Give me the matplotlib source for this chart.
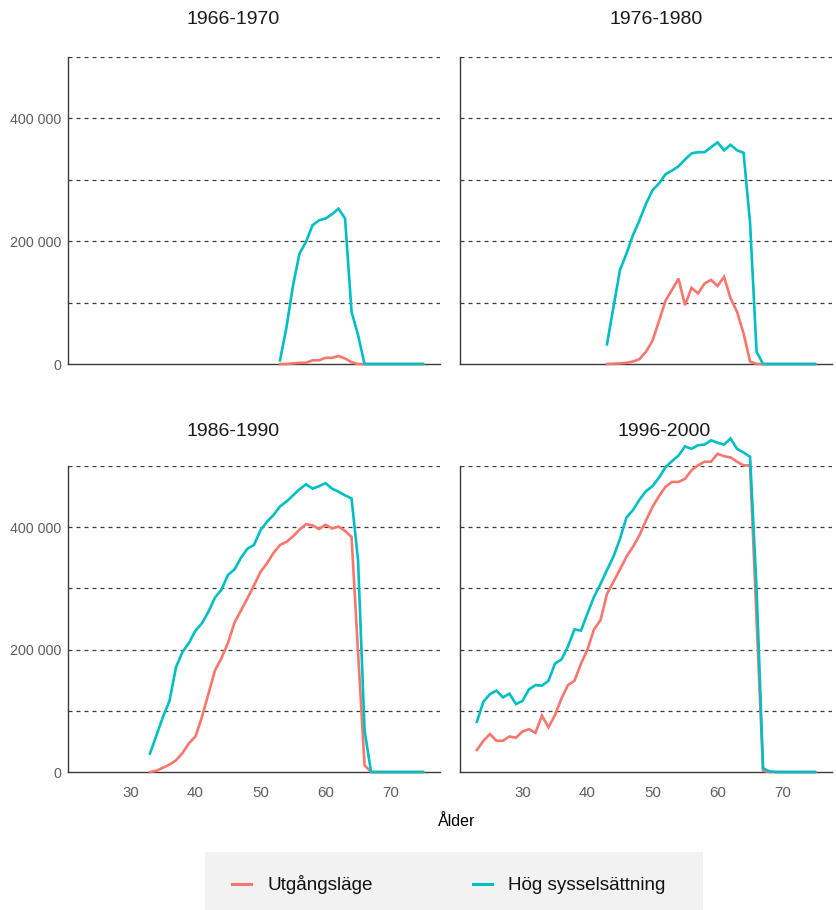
import matplotlib
matplotlib.use("Agg")
import matplotlib.pyplot as plt
import numpy as np
from matplotlib.patches import Rectangle
from matplotlib.lines import Line2D

# ---------------- data (thousands) ----------------
panels = ["1966-1970", "1976-1980", "1986-1990", "1996-2000"]
series_names = ["Utgångsläge", "Hög sysselsättning"]

ages_1966 = list(range(53, 76))
utg_1966 = [0, 0, 1, 2, 2, 6, 6, 10, 10, 13, 9, 3, 0, 0, 0, 0, 0, 0, 0, 0, 0, 0, 0]
hog_1966 = [6, 60, 128, 180, 199, 226, 234, 237, 244, 253, 237, 85, 47, 0, 0, 0, 0, 0, 0, 0, 0, 0, 0]

ages_1976 = list(range(43, 76))
utg_1976 = [0, 0.5, 1, 2, 4, 8, 20, 38, 70, 103, 121, 139, 96, 124, 115, 131, 137, 127, 142, 107,
            85, 50, 4, 0, 0, 0, 0, 0, 0, 0, 0, 0, 0]
hog_1976 = [32, 93, 153, 180, 210, 234, 261, 283, 294, 309, 315, 322, 333, 343, 345, 345, 353, 361,
            348, 357, 348, 344, 230, 20, 0, 0, 0, 0, 0, 0, 0, 0, 0]

ages_1986 = list(range(33, 76))
utg_1986 = [0, 2, 7, 12, 19, 31, 47, 58, 90, 128, 166, 186, 211, 244, 264, 284, 305, 327, 341, 358,
            371, 376, 385, 396, 405, 403, 397, 404, 398, 401, 394, 384, 195, 11, 0, 0, 0, 0, 0, 0, 0, 0, 0]
hog_1986 = [30, 60, 90, 116, 171, 196, 211, 231, 243, 262, 285, 298, 322, 331, 350, 365, 371, 395, 409,
            420, 434, 442, 452, 462, 470, 463, 467, 472, 463, 458, 452, 447, 346, 68, 0, 0, 0, 0, 0, 0, 0, 0, 0]

ages_1996 = list(range(23, 76))
utg_1996 = [36, 51, 62, 51, 51, 58, 56, 66, 70, 64, 92, 73, 93, 120, 142, 149, 177, 200, 233, 248,
            291, 311, 331, 352, 368, 387, 411, 433, 451, 466, 474, 474, 479, 493, 501, 507, 507, 520,
            516, 514, 507, 501, 501, 250, 2, 0, 0, 0, 0, 0, 0, 0, 0]
hog_1996 = [82, 115, 127, 133, 122, 128, 111, 116, 135, 142, 141, 149, 177, 184, 205, 233, 231, 259,
            286, 307, 330, 352, 381, 416, 428, 445, 459, 467, 481, 498, 508, 517, 532, 528, 534, 535,
            542, 538, 535, 545, 528, 522, 515, 300, 6, 1, 0, 0, 0, 0, 0, 0, 0]

panel_data = [
    (ages_1966, utg_1966, hog_1966),
    (ages_1976, utg_1976, hog_1976),
    (ages_1986, utg_1986, hog_1986),
    (ages_1996, utg_1996, hog_1996),
]

y_ticks = [0, 200000, 400000]
y_ticklabels = ["0", "200 000", "400 000"]
grid_levels = [100000, 200000, 300000, 400000, 500000]
x_ticks = [30, 40, 50, 60, 70]
x_label = "Ålder"

# ---------------- style ----------------
RED = "#F8766D"
TEAL = "#00BFC4"
W, H = 836, 910
REG = ["Liberation Sans", "DejaVu Sans"]

fig = plt.figure(figsize=(W / 100, H / 100), dpi=100)
fig.patch.set_facecolor("white")

# panel boxes in pixels: (left, top, right, bottom)
boxes = [(68, 57, 440, 364), (460, 57, 832, 364), (68, 466, 440, 772), (460, 466, 832, 772)]
title_pos = [(233, 20), (656, 20), (233, 432), (664, 432)]

for i, (box, (ages, utg, hog)) in enumerate(zip(boxes, panel_data)):
    l, t, r, b = box
    ax = fig.add_axes([l / W, 1 - b / H, (r - l) / W, (b - t) / H])
    ax.set_xlim(20.4, 77.6)
    ax.set_ylim(0, 500000)
    for g in grid_levels:
        ax.axhline(g, color="#3a3a3a", lw=0.9, ls=(0, (3.2, 3.2)), zorder=1)
    a = np.array(ages)
    ax.plot(a, np.array(utg) * 1000, color=RED, lw=1.9, zorder=3, clip_on=False,
            solid_joinstyle="miter")
    ax.plot(a, np.array(hog) * 1000, color=TEAL, lw=1.9, zorder=4, clip_on=False,
            solid_joinstyle="miter")
    for s in ["top", "right"]:
        ax.spines[s].set_visible(False)
    for s in ["left", "bottom"]:
        ax.spines[s].set_color("#3a3a3a")
        ax.spines[s].set_linewidth(1.0)
    ax.set_xticks(x_ticks)
    ax.set_yticks(y_ticks)
    ax.tick_params(length=0)
    if i in (0, 2):
        ax.set_yticklabels(y_ticklabels, family=REG, fontsize=10.3, color="#5e5e5e")
        ax.tick_params(axis="y", pad=5)
    else:
        ax.set_yticklabels([])
    if i in (2, 3):
        ax.set_xticklabels([str(v) for v in x_ticks], family=REG, fontsize=10.8, color="#5e5e5e")
        ax.tick_params(axis="x", pad=10)
    else:
        ax.set_xticklabels([])
    ax.patch.set_alpha(0)
    tx, ty = title_pos[i]
    fig.text(tx / W, 1 - ty / H, panels[i], ha="center", va="center",
             family=REG, fontsize=14, color="#1a1a1a")

fig.text(457 / W, 1 - 822 / H, x_label, ha="center", va="center",
         family=REG, fontsize=11.5, color="black")

# legend background
fig.patches.append(Rectangle((205 / W, 0), (703 - 205) / W, (910 - 852) / H,
                             transform=fig.transFigure, facecolor="#f2f2f2",
                             edgecolor="none", zorder=0))
handles = [Line2D([], [], color=RED, lw=2.2), Line2D([], [], color=TEAL, lw=2.2)]
leg = fig.legend(handles, series_names, loc="center left",
                 bbox_to_anchor=(223 / W, 1 - 885 / H), ncol=2, frameon=False,
                 borderpad=0, handlelength=1.0, handletextpad=0.85, columnspacing=5.3,
                 prop={"family": REG, "size": 13.6})
for txt in leg.get_texts():
    txt.set_color("#111111")

fig.savefig("out.png", dpi=100)
